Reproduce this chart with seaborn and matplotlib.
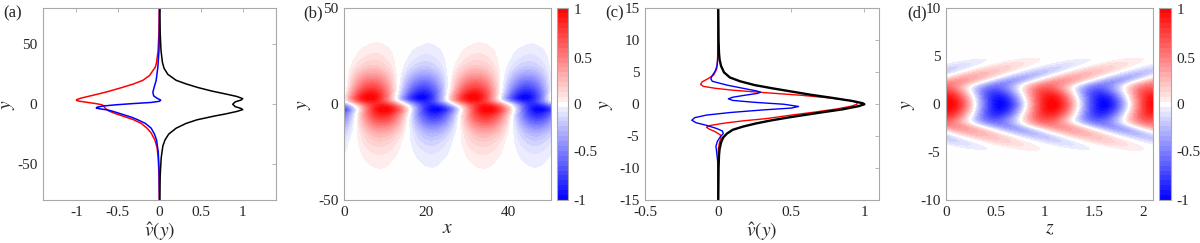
import matplotlib
matplotlib.use("Agg")
import matplotlib.pyplot as plt
import numpy as np
import seaborn as sns

# ---- panel (a): v-hat(y) profiles (y, value) ----
ya_red = [80, 60, 45, 35, 31, 24, 20, 17, 14, 11, 9, 6.5, 5, 4, 3.3, 2.5, 1.5, 0.5,
          -0.5, -1.5, -2.5, -3.5, -4.5, -5.6, -7.8, -10.6, -13, -16, -20, -24, -30,
          -36, -45, -60, -80]
va_red = [-0.003, -0.007, -0.017, -0.035, -0.05, -0.12, -0.2, -0.31, -0.45, -0.6,
          -0.71, -0.86, -0.95, -0.99, -1.0, -0.96, -0.86, -0.76, -0.69, -0.67, -0.66,
          -0.65, -0.63, -0.61, -0.53, -0.41, -0.31, -0.22, -0.15, -0.1, -0.055, -0.03,
          -0.015, -0.006, -0.003]

ya_blue = [80, 60, 45, 31, 20, 14, 10, 7, 5, 3.5, 2.5, 1.5, 0.6, -0.5, -1.5, -2.5,
           -3.2, -3.9, -4.6, -5.5, -7, -9, -11, -13, -16, -20, -25, -30, -40, -55, -80]
va_blue = [0.0, -0.002, -0.006, -0.02, -0.04, -0.065, -0.08, -0.07, -0.03, 0.015, 0.0,
           -0.1, -0.31, -0.53, -0.68, -0.75, -0.76, -0.71, -0.64, -0.58, -0.51, -0.42,
           -0.33, -0.26, -0.17, -0.1, -0.06, -0.035, -0.015, -0.005, 0.0]

ya_black = [80, 60, 45, 35, 30, 25, 20, 17, 14, 11, 8.5, 6.5, 4.7, 3.5, 2, 0, -2, -3.5,
            -4.5, -6, -8, -10, -13, -16, -20, -25, -30, -35, -45, -60, -80]
va_black = [0.004, 0.008, 0.018, 0.035, 0.055, 0.1, 0.2, 0.32, 0.46, 0.63, 0.8, 0.93,
            1.0, 0.98, 0.91, 0.88, 0.91, 0.98, 1.0, 0.93, 0.8, 0.65, 0.45, 0.32, 0.2,
            0.11, 0.065, 0.04, 0.02, 0.008, 0.004]

# ---- panel (c): v-hat(y) profiles ----
yc_red = [15, 10, 8, 6.5, 5.5, 4.6, 4.0, 3.5, 3.1, 2.8, 2.5, 2.2, 1.9, 1.4, 1.0, 0.6,
          0.3, 0.0, -0.3, -0.7, -1.2, -1.7, -2.25, -2.6, -3.0, -3.35, -3.6, -3.9, -4.3,
          -4.8, -5.3, -5.9, -7, -10, -15]
vc_red = [0.0, -0.001, -0.003, -0.005, -0.01, -0.03, -0.07, -0.11, -0.12, -0.1, -0.02,
          0.1, 0.27, 0.57, 0.76, 0.9, 0.95, 0.95, 0.91, 0.82, 0.67, 0.5, 0.33, 0.17,
          0.03, -0.06, -0.08, -0.06, -0.02, 0.015, 0.02, 0.01, 0.002, 0.0, 0.0]

yc_blue = [15, 10, 7, 6, 5.2, 4.5, 4.0, 3.6, 3.0, 2.5, 2.1, 1.9, 1.7, 1.4, 1.1, 0.85,
           0.6, 0.3, 0.0, -0.35, -0.6, -0.9, -1.3, -1.7, -2.1, -2.5, -2.9, -3.3, -3.8,
           -4.2, -4.6, -5.1, -5.8, -6.6, -7.5, -9, -15]
vc_blue = [0.0, 0.0, -0.003, -0.008, -0.02, -0.04, -0.05, -0.04, 0.06, 0.17, 0.26,
           0.29, 0.27, 0.18, 0.1, 0.07, 0.1, 0.25, 0.45, 0.55, 0.5, 0.3, 0.08, -0.08,
           -0.16, -0.18, -0.15, -0.08, -0.01, 0.03, 0.035, 0.015, -0.005, -0.015, -0.01,
           -0.003, 0.0]

yc_black = [15, 10, 8, 7, 6, 5, 4.2, 3.6, 3, 2.5, 2, 1.5, 1, 0.5, 0.15, 0, -0.3, -0.8,
            -1.3, -2, -2.5, -3, -3.5, -4.0, -4.6, -5.2, -6, -7, -8, -10, -15]
vc_black = [0.001, 0.003, 0.006, 0.01, 0.02, 0.04, 0.08, 0.15, 0.25, 0.37, 0.5, 0.63,
            0.78, 0.92, 0.99, 1.0, 0.96, 0.85, 0.7, 0.5, 0.37, 0.26, 0.17, 0.1, 0.06,
            0.035, 0.02, 0.01, 0.006, 0.003, 0.001]

# ---- panel (d): amplitude and spanwise shift of the mode against |y| ----
yd_abs = [0, 0.5, 1.0, 1.5, 2.0, 2.5, 3.0, 3.5, 4.0, 4.5, 5.0, 6.0, 10.0]
amp_d = [1.0, 0.96, 0.86, 0.7, 0.52, 0.38, 0.3, 0.22, 0.15, 0.08, 0.03, 0.006, 0.0]
shift_d = [0.03, 0.02, 0.0, -0.03, -0.02, 0.14, 0.3, 0.46, 0.62, 0.78, 0.94, 1.26, 2.5]

k_b = 0.25      # wavenumber of panel (b), x in [0, 4 pi / k]
beta_d = 6.0    # wavenumber of panel (d), z in [0, 4 pi / beta]


def profile_on_grid(ys, vals, grid, sigma):
    ys = np.asarray(ys, float)
    vals = np.asarray(vals, float)
    order = np.argsort(ys)
    prof = np.interp(grid, ys[order], vals[order])
    dy = grid[1] - grid[0]
    half = int(4 * sigma / dy)
    ker = np.exp(-0.5 * (np.arange(-half, half + 1) * dy / sigma) ** 2)
    ker /= ker.sum()
    padded = np.pad(prof, half, mode="edge")
    return np.convolve(padded, ker, mode="valid")


sns.set_theme(style="white")
plt.rcParams["font.family"] = "serif"
plt.rcParams["font.serif"] = ["Liberation Serif", "DejaVu Serif"]
plt.rcParams["mathtext.fontset"] = "stix"
plt.rcParams["axes.unicode_minus"] = False

GREY = "#a8a8a8"
TXT = "#262626"
FS = 11

fig = plt.figure(figsize=(12, 2.43), dpi=100)
bot, hgt = 43 / 243, 191.5 / 243
ax_a = fig.add_axes([43 / 1200, bot, 233 / 1200, hgt])
ax_b = fig.add_axes([344 / 1200, bot, 207 / 1200, hgt])
cax_b = fig.add_axes([557 / 1200, bot, 11 / 1200, hgt])
ax_c = fig.add_axes([645 / 1200, bot, 234 / 1200, hgt])
ax_d = fig.add_axes([946 / 1200, bot, 207 / 1200, hgt])
cax_d = fig.add_axes([1159 / 1200, bot, 12 / 1200, hgt])


def style(ax, xt, yt, xl, yl, ylab_x):
    for sp in ax.spines.values():
        sp.set_visible(True)
        sp.set_color(GREY)
        sp.set_linewidth(0.8)
    ax.set_xticks(xt)
    ax.set_xticklabels(["%g" % t for t in xt])
    ax.set_yticks(yt)
    ax.set_yticklabels(["%g" % t for t in yt])
    ax.tick_params(direction="in", length=3, width=0.6, color=GREY, labelcolor=TXT,
                   labelsize=FS, top=True, right=True, pad=4)
    ax.set_xlabel(xl, fontsize=FS + 3, color=TXT, labelpad=1)
    ax.set_ylabel(yl, fontsize=FS + 3, color=TXT)
    ax.yaxis.set_label_coords(ylab_x, 0.5)


def style_cbar(cax):
    cax.tick_params(direction="in", length=2.5, width=0.6, color=GREY, labelcolor=TXT,
                    labelsize=FS, pad=4)
    for sp in cax.spines.values():
        sp.set_color(GREY)
        sp.set_linewidth(0.8)


# symmetric filled-contour levels with a white band around zero
levels = np.concatenate([np.linspace(-1, -0.05, 20), np.linspace(0.05, 1, 20)])

# (a)
for ys, vs, col in [(ya_red, va_red, "red"), (ya_blue, va_blue, "blue"),
                    (ya_black, va_black, "black")]:
    sns.lineplot(x=vs, y=ys, orient="y", sort=False, estimator=None, color=col,
                 lw=1.1, ax=ax_a)
ax_a.set_xlim(-1.4, 1.4)
ax_a.set_ylim(-80, 80)
style(ax_a, [-1, -0.5, 0, 0.5, 1], [-50, 0, 50], r"$\hat{v}(y)$", r"$y$", -0.11)

# (b) field built from the (a) profiles
yb = np.linspace(-50, 50, 1001)
xb = np.linspace(0, 4 * np.pi / k_b, 700)
vr = profile_on_grid(ya_red, va_red, yb, 0.5)
vi = profile_on_grid(ya_blue, va_blue, yb, 0.5)
field_b = np.outer(vi, np.cos(k_b * xb)) - np.outer(vr, np.sin(k_b * xb))
field_b = np.clip(field_b / np.abs(field_b).max(), -1, 1)
cf_b = ax_b.contourf(xb, yb, field_b, levels=levels, cmap="bwr", vmin=-1, vmax=1)
ax_b.set_xlim(0, 4 * np.pi / k_b)
ax_b.set_ylim(-50, 50)
style(ax_b, [0, 20, 40], [-50, 0, 50], r"$x$", r"$y$", -0.15)
cb = fig.colorbar(cf_b, cax=cax_b, ticks=[-1, -0.5, 0, 0.5, 1])
cb.ax.set_yticklabels(["-1", "-0.5", "0", "0.5", "1"])
style_cbar(cax_b)

# (c)
for ys, vs, col, lw in [(yc_red, vc_red, "red", 1.0), (yc_blue, vc_blue, "blue", 1.0),
                        (yc_black, vc_black, "black", 1.7)]:
    sns.lineplot(x=vs, y=ys, orient="y", sort=False, estimator=None, color=col,
                 lw=lw, ax=ax_c)
ax_c.set_xlim(-0.5, 1.1)
ax_c.set_ylim(-15, 15)
style(ax_c, [-0.5, 0, 0.5, 1], [-15, -10, -5, 0, 5, 10, 15], r"$\hat{v}(y)$", r"$y$",
      -0.13)

# (d)
yd = np.linspace(-10, 10, 801)
zd = np.linspace(0, 4 * np.pi / beta_d, 700)
amp = np.interp(np.abs(yd), yd_abs, amp_d)
sh = np.interp(np.abs(yd), yd_abs, shift_d)
dy = yd[1] - yd[0]
ker = np.exp(-0.5 * (np.arange(-40, 41) * dy / 0.2) ** 2)
ker /= ker.sum()
amp = np.convolve(np.pad(amp, 40, mode="edge"), ker, mode="valid")
sh = np.convolve(np.pad(sh, 40, mode="edge"), ker, mode="valid")
field_d = amp[:, None] * np.cos(beta_d * (zd[None, :] - sh[:, None]))
field_d = np.clip(field_d, -1, 1)
cf_d = ax_d.contourf(zd, yd, field_d, levels=levels, cmap="bwr", vmin=-1, vmax=1)
ax_d.set_xlim(0, 4 * np.pi / beta_d)
ax_d.set_ylim(-10, 10)
style(ax_d, [0, 0.5, 1, 1.5, 2], [-10, -5, 0, 5, 10], r"$z$", r"$y$", -0.14)
cb = fig.colorbar(cf_d, cax=cax_d, ticks=[-1, -0.5, 0, 0.5, 1])
cb.ax.set_yticklabels(["-1", "-0.5", "0", "0.5", "1"])
style_cbar(cax_d)

for xp, lab in [(3, "(a)"), (303, "(b)"), (605, "(c)"), (907, "(d)")]:
    fig.text(xp / 1200, 1 - 5 / 243, lab, fontsize=FS + 1, color=TXT, va="top",
             ha="left")

fig.savefig("out.png", dpi=100)
